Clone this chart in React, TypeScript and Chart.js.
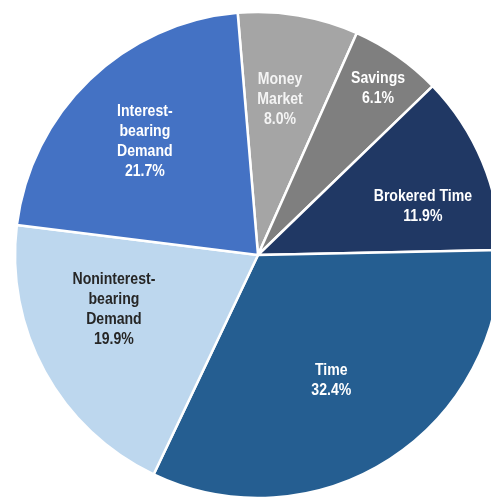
import React, { useEffect, useRef } from "react";
import { Chart, registerables } from "chart.js";

Chart.register(...registerables);

const categories = [
  ["Money", "Market"],
  ["Savings"],
  ["Brokered Time"],
  ["Time"],
  ["Noninterest-", "bearing", "Demand"],
  ["Interest-", "bearing", "Demand"],
];
const shares = [8.0, 6.1, 11.9, 32.4, 19.9, 21.7];
const sliceColors = ["#a5a5a5", "#7f7f7f", "#203864", "#255e91", "#bdd7ee", "#4472c4"];
const labelColors = ["#f4f4f4", "#ffffff", "#ffffff", "#ffffff", "#262626", "#ffffff"];
// label placement: angular shift (deg) from slice middle, radial fraction
const labelShift = [-1.5, 0.9, 6.3, 2.6, 8.0, -1.0];
const labelRadius = [0.644, 0.843, 0.707, 0.598, 0.634, 0.66];

const labelPlugin = {
  id: "sliceLabels",
  afterDatasetsDraw(chart: any) {
    const ctx = chart.ctx;
    const meta = chart.getDatasetMeta(0);
    ctx.save();
    ctx.font = "bold 16px 'Liberation Sans', Arial, sans-serif";
    ctx.textAlign = "center";
    ctx.textBaseline = "middle";
    const lineH = 20;
    meta.data.forEach((arc: any, i: number) => {
      const { x, y, startAngle, endAngle, outerRadius } = arc.getProps(
        ["x", "y", "startAngle", "endAngle", "outerRadius"],
        true
      );
      const mid = (startAngle + endAngle) / 2 + (labelShift[i] * Math.PI) / 180;
      const r = outerRadius * labelRadius[i];
      const cx = x + Math.cos(mid) * r;
      const cy = y + Math.sin(mid) * r;
      const lines = [...categories[i], shares[i].toFixed(1) + "%"];
      const top = cy - ((lines.length - 1) * lineH) / 2;
      ctx.fillStyle = labelColors[i];
      lines.forEach((t, k) => {
        ctx.save();
        ctx.translate(cx, top + k * lineH);
        ctx.scale(0.88, 1);
        ctx.fillText(t, 0, 0);
        ctx.restore();
      });
    });
    ctx.restore();
  },
};

export default function App() {
  const ref = useRef<HTMLCanvasElement>(null);
  useEffect(() => {
    document.body.style.margin = "0";
    const chart = new Chart(ref.current!, {
      type: "pie",
      data: {
        labels: categories.map((c) => c.join(" ")),
        datasets: [
          {
            data: shares,
            backgroundColor: sliceColors,
            borderColor: "#ffffff",
            borderWidth: 2.5,
          },
        ],
      },
      options: {
        responsive: false,
        animation: false,
        rotation: -4.8,
        radius: 243,
        layout: { padding: 0 },
        plugins: { legend: { display: false }, tooltip: { enabled: false } },
      },
      plugins: [labelPlugin],
    });
    return () => chart.destroy();
  }, []);
  return (
    <div style={{ width: 491, height: 498, overflow: "hidden", background: "#fff" }}>
      <canvas ref={ref} width={516} height={510} style={{ display: "block" }} />
    </div>
  );
}
